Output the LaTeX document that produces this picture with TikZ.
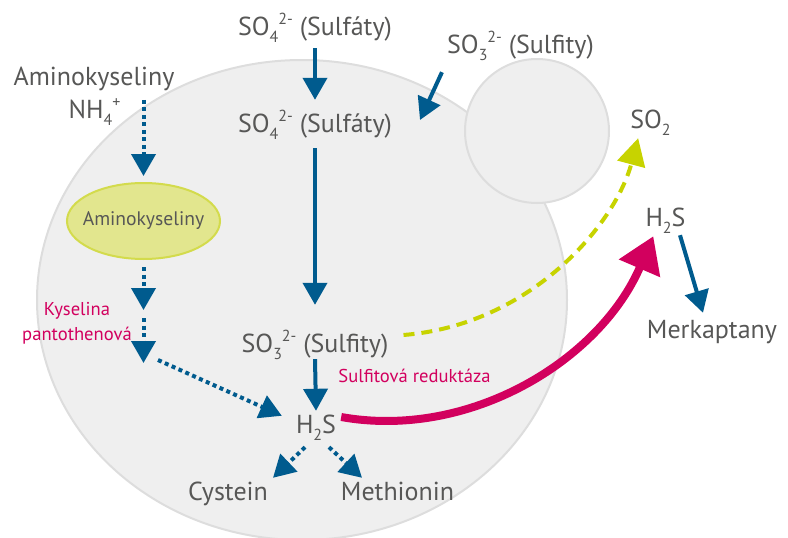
\documentclass[tikz,border=0pt]{standalone}
\usepackage{fontspec}
\setmainfont{PT Sans}
\usetikzlibrary{arrows.meta,shapes.geometric,calc}
\definecolor{txtgrey}{HTML}{575756}
\definecolor{bluec}{HTML}{005B8E}
\definecolor{magc}{HTML}{D2005E}
\definecolor{yelc}{HTML}{C7D300}
\definecolor{ellfill}{HTML}{E2E68E}
\definecolor{elldraw}{HTML}{D3DB4C}
\definecolor{cellfill}{HTML}{EFEFEF}
\definecolor{celldraw}{HTML}{DDDDDD}
\newcommand{\lo}[1]{\raisebox{-0.28em}{\fontsize{16}{16}\selectfont #1}}
\newcommand{\hi}[1]{\raisebox{0.42em}{\fontsize{16}{16}\selectfont #1}}
\tikzset{
  lbl/.style={inner sep=0pt, text height=18pt, text depth=6pt, anchor=base, text=txtgrey, font=\fontsize{26}{26}\selectfont},
  maglbl/.style={inner sep=0pt, text height=13pt, text depth=4pt, anchor=base, text=magc, font=\fontsize{18.6}{18.6}\selectfont},
  cell/.style={fill=cellfill, draw=celldraw, line width=2pt},
  bluearrow/.style={draw=bluec, line width=4pt, -{Triangle[length=22pt,width=24pt]}},
  bluedot/.style={bluearrow, dash pattern=on 4pt off 3.5pt},
  magarrow/.style={draw=magc, line width=8pt, -{Triangle[length=35pt,width=43pt]}},
  yelarrow/.style={draw=yelc, line width=4pt, dash pattern=on 11pt off 7pt, -{Triangle[length=27pt,width=28pt]}},
}
\begin{document}
\begin{tikzpicture}[x=1pt,y=-1pt]
\useasboundingbox (0,0) rectangle (788,538);
% cells
\draw[cell] (302,300) ellipse [x radius=265pt, y radius=240pt];
\draw[cell] (537,131) circle [radius=72pt];
\node[ellipse, fill=ellfill, draw=elldraw, line width=2pt, minimum width=153pt, minimum height=76pt, inner sep=0pt, text=txtgrey, font=\fontsize{19.6}{19.6}\selectfont] (aminoE) at (143.5,221) {\makebox[0pt]{Aminokyseliny}};
% labels
\node[lbl] (so4top) at (315,35) {SO\lo{4}\hi{2-} (Sulfáty)};
\node[lbl] (so4in) at (315,132) {SO\lo{4}\hi{2-} (Sulfáty)};
\node[lbl] (so3out) at (520.5,53) {SO\lo{3}\hi{2-} (Sulfity)};
\node[lbl] (amino) at (94,85) {Aminokyseliny};
\node[lbl] (nh4) at (94.5,118) {NH\lo{4}\hi{+}};
\node[lbl] (so2) at (650.5,128) {SO\lo{2}};
\node[lbl] (h2sR) at (665.5,226) {H\lo{2}S};
\node[lbl] (merk) at (712,338) {Merkaptany};
\node[maglbl] (kys) at (77,315) {Kyselina};
\node[maglbl] (pant) at (77,340) {pantothenová};
\node[lbl] (so3mid) at (315,352) {SO\lo{3}\hi{2-} (Sulfity)};
\node[maglbl] (sred) at (414.5,382) {Sulfitová reduktáza};
\node[lbl] (h2s) at (316,433) {H\lo{2}S};
\node[lbl] (cyst) at (228,500) {Cystein};
\node[lbl] (meth) at (397.5,500) {Methionin};
% free ends
\coordinate (cellin) at (420,120);
\coordinate (k1) at (143.5,310);
\coordinate (k2) at (143.5,318);
\coordinate (k3) at (143.5,363);
\coordinate (k4) at (158,360);
% blue solid arrows
\draw[bluearrow] ([yshift=-7pt]so4top.south) -- ([yshift=14pt]so4in.north);
\draw[bluearrow] ([yshift=-10pt]so4in.south) -- ([yshift=29pt]so3mid.north);
\draw[bluearrow] ([yshift=-1pt]so3mid.south) -- ([yshift=4pt]h2s.north);
\draw[bluearrow] ([shift={(-5pt,-13pt)}]so3out.south west) -- (cellin);
\draw[bluearrow] ([shift={(14.5pt,-3pt)}]h2sR.south) -- ([shift={(-9pt,7pt)}]merk.north);
% blue dotted arrows
\draw[bluedot] (aminoE.north |- nh4.north) -- ([yshift=6pt]aminoE.north);
\draw[bluedot] ([yshift=-7pt]aminoE.south) -- (k1);
\draw[bluedot] (k2) -- (k3);
\draw[bluedot] (k4) -- ([shift={(-14pt,-1pt)}]h2s.north west);
\draw[bluedot] ([shift={(-11pt,-8pt)}]h2s.south) -- ([shift={(45pt,4pt)}]cyst.north);
\draw[bluedot] ([shift={(13pt,-8pt)}]h2s.south) -- ([shift={(-35.5pt,4pt)}]meth.north);
% magenta and yellow curves
\draw[magarrow] ([shift={(5pt,10pt)}]h2s.east) .. controls (470,440) and (600,360) .. ([shift={(8pt,-4pt)}]h2sR.south west);
\draw[yelarrow] ([shift={(15pt,11pt)}]so3mid.east) .. controls (530,325) and (615,225) .. ([shift={(8pt,-4pt)}]so2.south west);
\end{tikzpicture}
\end{document}
